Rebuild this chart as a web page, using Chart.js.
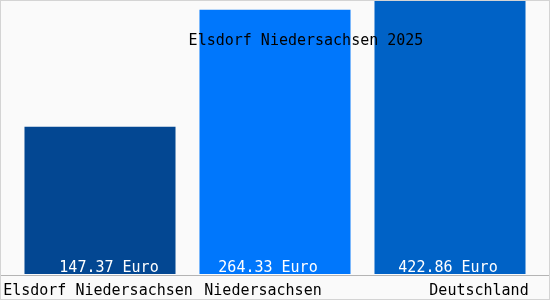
<!DOCTYPE html>
<html>
<head>
<meta charset="utf-8">
<script src="https://cdn.jsdelivr.net/npm/chart.js@4/dist/chart.umd.min.js"></script>
<style>
  html, body { margin: 0; padding: 0; background: #fafafa; }
  #wrap { width: 550px; height: 300px; position: relative; }
</style>
</head>
<body>
<div id="wrap"><canvas id="priceChart" width="550" height="300"></canvas></div>
<script>
// Elsdorf Niedersachsen 2025 - Preisvergleich
const categories = ['Elsdorf Niedersachsen', 'Niedersachsen', 'Deutschland'];
const values = [147.37, 264.33, 422.86];
const barColors = ['#034792', '#0077fc', '#0062c6'];
const chartTitle = 'Elsdorf Niedersachsen 2025';
const unit = 'Euro';

const FONT = '15px "DejaVu Sans Mono", "Liberation Mono", monospace';

// hand-tuned label nudges, relative to bar centre
const valueOffsets = [9, -7, -2];
const catOffsets = [-2, -12, 29];

const labelPlugin = {
    id: 'labelPlugin',
    beforeDraw(chart) {
        const c = chart.ctx;
        c.save();
        c.fillStyle = '#fafafa';
        c.fillRect(0, 0, chart.width, chart.height);
        c.restore();
    },
    afterDraw(chart) {
        const c = chart.ctx;
        const area = chart.chartArea;
        const meta = chart.getDatasetMeta(0);
        c.save();
        c.font = FONT;
        c.textBaseline = 'alphabetic';
        c.textAlign = 'center';

        // values inside the bars
        c.fillStyle = '#ffffff';
        meta.data.forEach((bar, i) => {
            c.fillText(values[i].toFixed(2) + ' ' + unit, bar.x + valueOffsets[i], area.bottom - 2);
        });

        // separator line
        c.strokeStyle = '#b4b4b4';
        c.lineWidth = 1;
        c.beginPath();
        c.moveTo(0, area.bottom + 1.5);
        c.lineTo(chart.width, area.bottom + 1.5);
        c.stroke();

        // category names
        c.fillStyle = '#000000';
        meta.data.forEach((bar, i) => {
            c.fillText(categories[i], bar.x + catOffsets[i], area.bottom + 21);
        });

        // title over the bars
        c.fillText(chartTitle, chart.width / 2 + 31, 45);

        // outer frame
        c.strokeStyle = '#d4d4d4';
        c.strokeRect(0.5, 0.5, chart.width - 1, chart.height - 1);
        c.restore();
    }
};

new Chart(document.getElementById('priceChart'), {
    type: 'bar',
    data: {
        labels: categories,
        datasets: [{
            data: values,
            backgroundColor: barColors,
            borderWidth: 0,
            categoryPercentage: 1,
            barPercentage: 0.863
        }]
    },
    options: {
        responsive: false,
        animation: false,
        devicePixelRatio: 1,
        layout: { padding: { left: 12.5, right: 12.5, top: 1, bottom: 26 } },
        plugins: {
            legend: { display: false },
            title: { display: false },
            tooltip: { enabled: false }
        },
        scales: {
            x: { display: false },
            y: { display: false, min: 0, max: 273 }
        }
    },
    plugins: [labelPlugin]
});
</script>
</body>
</html>
